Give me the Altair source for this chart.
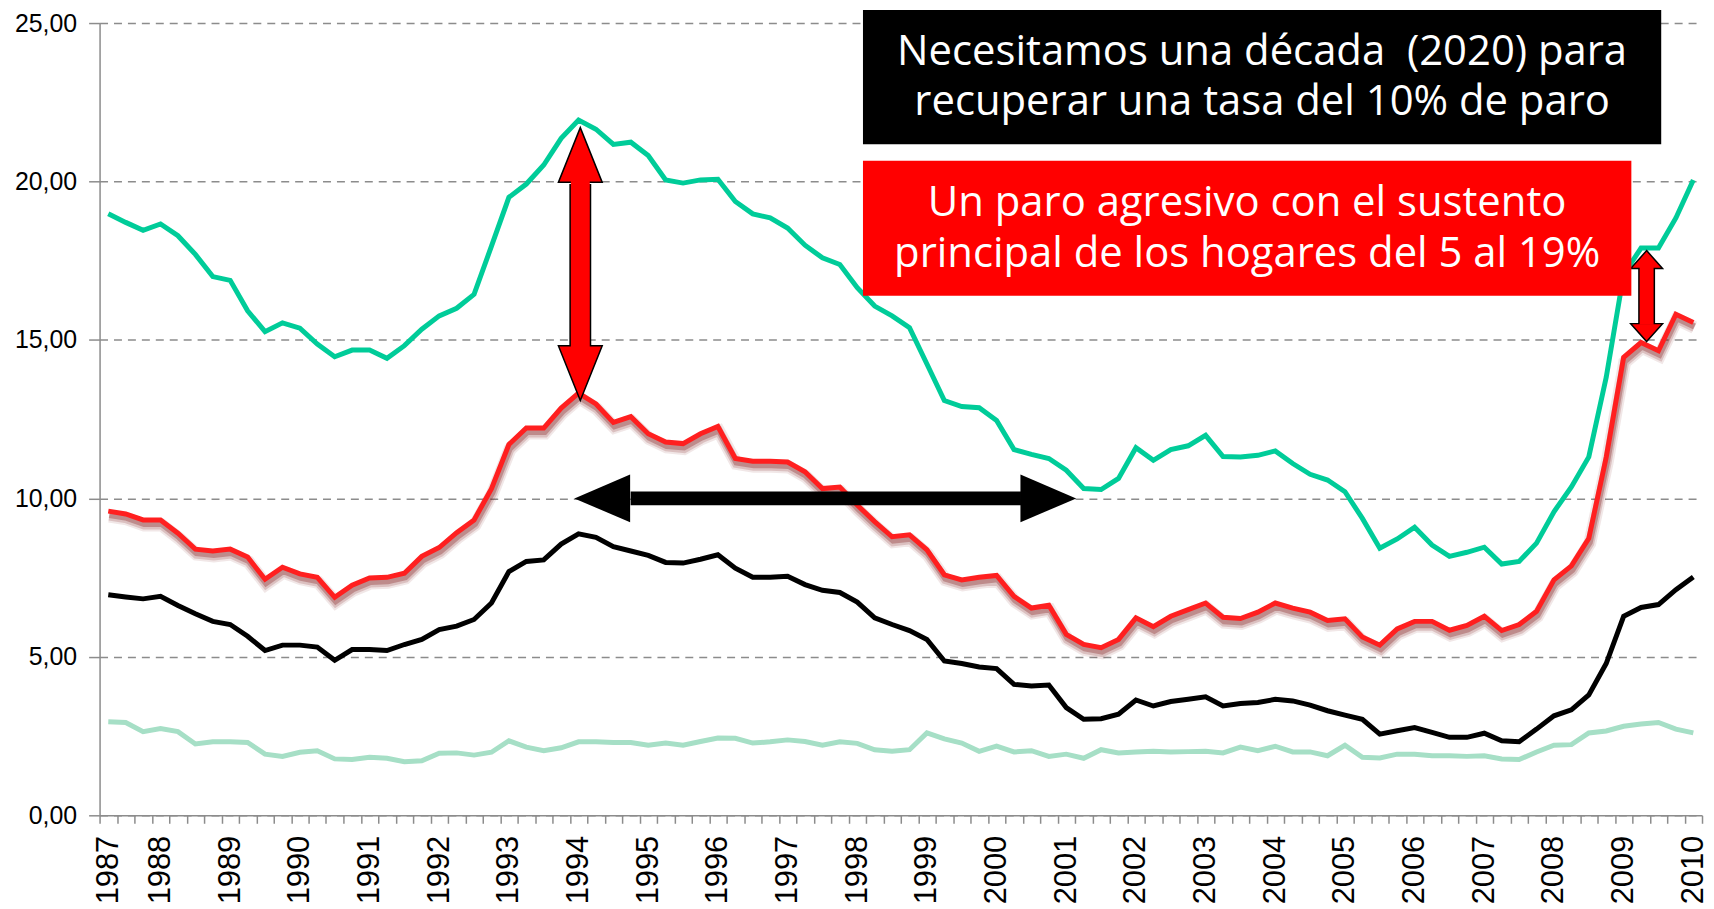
import json
import altair as alt
import pandas as pd

# ---------------- data ----------------
year_labels = ["1987", "1988", "1989", "1990", "1991", "1992", "1993", "1994",
               "1995", "1996", "1997", "1998", "1999", "2000", "2001", "2002",
               "2003", "2004", "2005", "2006", "2007", "2008", "2009", "2010"]
year_label_index = [0, 3, 7, 11, 15, 19, 23, 27, 31, 35, 39, 43, 47, 51, 55, 59,
                    63, 67, 71, 75, 79, 83, 87, 91]

verde = [18.98, 18.71, 18.46, 18.66, 18.29, 17.70, 17.00, 16.88, 15.92, 15.26,
         15.54, 15.37, 14.87, 14.47, 14.68, 14.68, 14.42, 14.82, 15.34, 15.76,
         16.00, 16.44, 17.96, 19.50, 19.92, 20.52, 21.36, 21.94, 21.65, 21.17,
         21.24, 20.82, 20.05, 19.95, 20.05, 20.07, 19.37, 18.98, 18.85, 18.53,
         17.99, 17.59, 17.38, 16.65, 16.07, 15.76, 15.39, 14.24, 13.09, 12.90,
         12.86, 12.46, 11.54, 11.39, 11.26, 10.89, 10.31, 10.28, 10.63, 11.60,
         11.20, 11.54, 11.66, 11.99, 11.32, 11.31, 11.36, 11.50, 11.10, 10.76,
         10.58, 10.21, 9.37, 8.43, 8.72, 9.09, 8.53, 8.17, 8.30, 8.46,
         7.93, 8.01, 8.59, 9.58, 10.36, 11.31, 13.82, 17.07, 17.90, 17.90,
         18.85, 20.05]

rojo = [9.60, 9.51, 9.32, 9.32, 8.90, 8.40, 8.34, 8.40, 8.15, 7.45,
        7.83, 7.62, 7.51, 6.88, 7.26, 7.49, 7.51, 7.64, 8.17, 8.45,
        8.92, 9.32, 10.31, 11.70, 12.22, 12.22, 12.85, 13.32, 12.98, 12.40,
        12.58, 12.04, 11.78, 11.73, 12.04, 12.27, 11.26, 11.17, 11.17, 11.15,
        10.84, 10.31, 10.36, 9.79, 9.27, 8.79, 8.85, 8.38, 7.59, 7.43,
        7.51, 7.57, 6.91, 6.54, 6.63, 5.71, 5.39, 5.29, 5.55, 6.23,
        5.95, 6.28, 6.49, 6.70, 6.25, 6.21, 6.41, 6.70, 6.54, 6.41,
        6.15, 6.20, 5.63, 5.37, 5.88, 6.12, 6.12, 5.84, 5.99, 6.28,
        5.83, 6.02, 6.44, 7.43, 7.87, 8.74, 11.30, 14.45, 14.92, 14.66,
        15.81, 15.55]

negro = [6.96, 6.89, 6.83, 6.91, 6.62, 6.36, 6.12, 6.02, 5.65, 5.20,
         5.37, 5.37, 5.31, 4.89, 5.23, 5.23, 5.20, 5.39, 5.55, 5.86,
         5.97, 6.18, 6.70, 7.69, 8.01, 8.06, 8.56, 8.88, 8.77, 8.48,
         8.34, 8.20, 7.98, 7.96, 8.08, 8.22, 7.80, 7.51, 7.51, 7.54,
         7.28, 7.10, 7.03, 6.73, 6.23, 6.02, 5.83, 5.55, 4.87, 4.79,
         4.68, 4.63, 4.13, 4.08, 4.11, 3.40, 3.03, 3.05, 3.19, 3.64,
         3.45, 3.59, 3.66, 3.74, 3.45, 3.53, 3.56, 3.66, 3.61, 3.48,
         3.30, 3.16, 3.03, 2.56, 2.67, 2.77, 2.62, 2.46, 2.46, 2.59,
         2.35, 2.32, 2.72, 3.14, 3.33, 3.80, 4.79, 6.28, 6.56, 6.65,
         7.12, 7.52]

verde_claro = [2.95, 2.93, 2.64, 2.74, 2.64, 2.25, 2.32, 2.32, 2.30, 1.93,
               1.86, 1.99, 2.04, 1.78, 1.76, 1.83, 1.80, 1.69, 1.72, 1.96,
               1.97, 1.90, 1.99, 2.35, 2.15, 2.04, 2.13, 2.32, 2.32, 2.30,
               2.30, 2.21, 2.28, 2.21, 2.33, 2.44, 2.43, 2.28, 2.32, 2.38,
               2.33, 2.21, 2.32, 2.27, 2.07, 2.02, 2.07, 2.60, 2.41, 2.28,
               2.02, 2.18, 2.00, 2.04, 1.86, 1.93, 1.80, 2.07, 1.97, 2.00,
               2.02, 2.00, 2.01, 2.02, 1.97, 2.15, 2.04, 2.18, 2.00, 2.00,
               1.88, 2.21, 1.83, 1.81, 1.93, 1.93, 1.88, 1.88, 1.86, 1.88,
               1.78, 1.76, 2.00, 2.21, 2.23, 2.60, 2.66, 2.81, 2.88, 2.93,
               2.72, 2.60]

black_box_lines = ["Necesitamos una década \u00a0(2020) para",
                   "recuperar una tasa del 10% de paro"]
red_box_lines = ["Un paro agresivo con el sustento",
                 "principal de los hogares del 5 al 19%"]

# ---------------- layout ----------------
N = len(verde)
W, H = 1610, 796
band = W / N

series = {"verde_claro": verde_claro, "negro": negro, "verde": verde, "rojo": rojo}
rows = []
for name, vals in series.items():
    for i, v in enumerate(vals):
        rows.append({"pos": i + 0.5, "serie": name, "valor": v})
df = pd.DataFrame(rows)

tick_text = [""] * (N + 1)
for p, lab in zip(year_label_index, year_labels):
    tick_text[p] = lab
label_expr = json.dumps(tick_text) + "[datum.value]"

x_scale = alt.Scale(domain=[0, N], nice=False, zero=False)
y_scale = alt.Scale(domain=[0, 25], nice=False, zero=True)

x_axis = alt.Axis(values=list(range(N + 1)), labelExpr=label_expr, labelAngle=270,
                  labelOffset=band / 2, labelFontSize=31, labelFont="Liberation Sans",
                  labelColor="#000000", labelPadding=12, labelOverlap=False,
                  labelFlush=False, labelBound=False, tickSize=8, tickColor="#8c8c8c",
                  tickWidth=1.5, domainColor="#8c8c8c", domainWidth=1.5, grid=False,
                  title=None)
y_axis = alt.Axis(values=[0, 5, 10, 15, 20, 25],
                  labelExpr="replace(format(datum.value, '.2f'), '.', ',')",
                  labelFontSize=25, labelFont="Liberation Sans", labelColor="#000000",
                  labelPadding=12, tickSize=11, tickColor="#8c8c8c", tickWidth=1.5,
                  domainColor="#8c8c8c", domainWidth=1.5, grid=True, gridDash=[8, 6],
                  gridColor="#8c8c8c", gridWidth=1.5, title=None)


def X(field):
    return alt.X(field, type="quantitative", scale=x_scale, axis=x_axis, title=None)


def Y(field):
    return alt.Y(field, type="quantitative", scale=y_scale, axis=y_axis, title=None)


def line(name, **kw):
    return (alt.Chart(df).transform_filter(alt.datum.serie == name)
            .mark_line(**kw).encode(x=X("pos"), y=Y("valor")))


layers = [
    line("verde_claro", color="#a6dfc6", strokeWidth=5),
    line("negro", color="#000000", strokeWidth=5),
    line("verde", color="#00cc99", strokeWidth=5),
    line("rojo", color="#7a1010", strokeWidth=13, opacity=0.10, yOffset=5, xOffset=1),
    line("rojo", color="#7a1010", strokeWidth=9, opacity=0.18, yOffset=5, xOffset=1),
    line("rojo", color="#7a1010", strokeWidth=6, opacity=0.30, yOffset=4, xOffset=1),
    line("rojo", color="#ff1f1f", strokeWidth=5),
]


# ---------------- arrows ----------------
def head(x, y, path, size, fill, stroke=None, sw=0):
    kw = dict(shape=path, size=size, filled=True, color=fill, opacity=1)
    if stroke:
        kw.update(stroke=stroke, strokeWidth=sw)
    return (alt.Chart(pd.DataFrame({"x": [x], "y": [y]}))
            .mark_point(**kw).encode(x=X("x"), y=Y("y")))


def vrule(x, y1, y2, color, width):
    return (alt.Chart(pd.DataFrame({"x": [x], "y": [y1], "y2": [y2]}))
            .mark_rule(color=color, strokeWidth=width)
            .encode(x=X("x"), y=Y("y"), y2=alt.Y2("y2")))


def hrule(x1, x2, y, color, width):
    return (alt.Chart(pd.DataFrame({"x": [x1], "x2": [x2], "y": [y]}))
            .mark_rule(color=color, strokeWidth=width)
            .encode(x=X("x"), x2=alt.X2("x2"), y=Y("y")))


def vertical_arrow(x, tip_top, base_top, base_bot, tip_bot, hl, hw, shaft):
    k = hw / hl
    up = f"M0,0 L{k:.3f},1 L{-k:.3f},1 Z"
    down = f"M0,0 L{k:.3f},-1 L{-k:.3f},-1 Z"
    size = (2 * hl) ** 2
    eps = (base_top - base_bot) * 0.01
    return [
        vrule(x, base_top, base_bot, "#000000", shaft),
        head(x, tip_top, up, size, "#ff0000", "#000000", 1.5),
        head(x, tip_bot, down, size, "#ff0000", "#000000", 1.5),
        vrule(x, base_top + eps * 3, base_bot - eps * 3, "#ff0000", shaft - 3),
    ]


# big arrow at 1994
layers += vertical_arrow(27.6, 21.70, 19.92, 14.79, 13.09, 55, 22, 22)
# small arrow at 2009
layers += vertical_arrow(88.82, 17.82, 17.26, 15.53, 14.95, 18, 16, 17)

# horizontal black arrow at 10 %
hk = 24 / 56
layers += [
    hrule(30.49, 52.9, 10, "#000000", 14),
    head(27.26, 10, f"M0,0 L1,{-hk:.3f} L1,{hk:.3f} Z", 112 ** 2, "#000000"),
    head(56.07, 10, f"M0,0 L-1,{-hk:.3f} L-1,{hk:.3f} Z", 112 ** 2, "#000000"),
]

# ---------------- annotation boxes ----------------
one = pd.DataFrame({"k": [0]})


def box(x1, x2, y1, y2, color):
    return alt.Chart(one).mark_rect(color=color).encode(
        x=alt.value(x1), x2=alt.value(x2), y=alt.value(y1), y2=alt.value(y2))


def label(lines, cx, base_y, lh):
    return alt.Chart(one).mark_text(
        text=lines, font="Open Sans", fontSize=42, color="#ffffff", lineHeight=lh,
        align="center", baseline="alphabetic").encode(x=alt.value(cx), y=alt.value(base_y))


layers.append(box(767, 1569, -13, 121.7, "#000000"))
layers.append(box(767, 1539, 138.3, 274, "#ff0000"))
layers.append(label(black_box_lines, 1168, 42.5, 50))
layers.append(label(red_box_lines, 1153, 194, 51.5))

chart = (alt.layer(*layers)
         .properties(width=W, height=H,
                     autosize=alt.AutoSizeParams(type="none"),
                     padding={"left": 92, "top": 13, "right": 4, "bottom": 90},
                     background="#ffffff")
         .configure_view(stroke=None))

chart.save("out.html", embed_options={"renderer": "svg", "actions": False})
